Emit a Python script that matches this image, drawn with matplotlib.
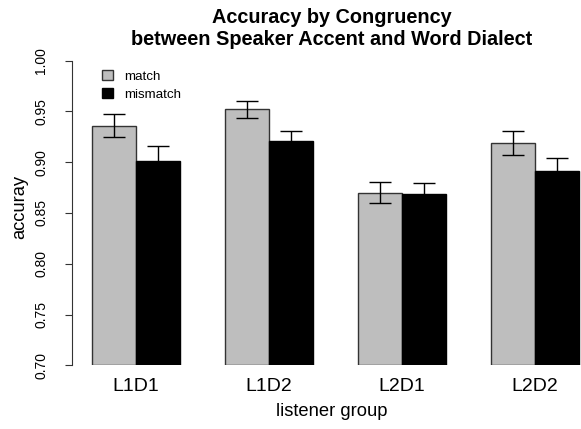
import matplotlib.pyplot as plt
import numpy as np
from matplotlib.patches import Patch

plt.rcParams['font.family'] = ['Liberation Sans', 'DejaVu Sans']

# data
groups = ["L1D1", "L1D2", "L2D1", "L2D2"]
match_acc = [0.936, 0.952, 0.870, 0.919]
match_se = [0.0115, 0.0083, 0.0103, 0.0118]
mismatch_acc = [0.901, 0.921, 0.869, 0.891]
mismatch_se = [0.0145, 0.0100, 0.0105, 0.0134]
yticks = [0.70, 0.75, 0.80, 0.85, 0.90, 0.95, 1.00]

base = 0.70
x = np.arange(len(groups)) * 3 + 2  # R barplot beside=TRUE, space=c(0,1)

fig = plt.figure(figsize=(5.81, 4.29), dpi=100)
ax = fig.add_axes([72 / 581, 1 - 365.3 / 429, 520 / 581, 304.8 / 429])

ax.bar(x - 0.5, np.array(match_acc) - base, width=1, bottom=base,
       color="#bebebe", edgecolor="#333333", linewidth=1, label="match")
ax.bar(x + 0.5, np.array(mismatch_acc) - base, width=1, bottom=base,
       color="black", edgecolor="black", linewidth=1, label="mismatch")
ax.errorbar(x - 0.5, match_acc, yerr=match_se, fmt="none", ecolor="black",
            elinewidth=1, capsize=8, capthick=1, zorder=3)
ax.errorbar(x + 0.5, mismatch_acc, yerr=mismatch_se, fmt="none", ecolor="black",
            elinewidth=1, capsize=8, capthick=1, zorder=3)

ax.set_xlim(0.555, 12.29)
ax.set_ylim(0.70, 1.00)

for s in ["top", "right", "bottom"]:
    ax.spines[s].set_visible(False)
ax.spines["left"].set_color("#333333")

ax.set_yticks(yticks)
ax.set_yticklabels(["%.2f" % v for v in yticks], rotation=90, va="center")
ax.tick_params(axis="y", length=5, pad=12, labelsize=10, color="#333333")
ax.set_xticks(x)
ax.set_xticklabels(groups)
ax.tick_params(axis="x", length=0, pad=9.5, labelsize=14)

ax.set_xlabel("listener group", fontsize=13.2, labelpad=5.5)
ax.set_ylabel("accuray", fontsize=13.2)
ax.yaxis.set_label_coords(-0.085, 0.518)

ax.set_title("Accuracy by Congruency\nbetween Speaker Accent and Word Dialect",
             fontsize=14.3, fontweight="bold", linespacing=1.17, pad=11.5)

handles = [Patch(facecolor="#bebebe", edgecolor="#333333", label="match"),
           Patch(facecolor="black", edgecolor="black", label="mismatch")]
ax.legend(handles=handles, loc="upper left", frameon=False, fontsize=9.6,
          bbox_to_anchor=(101.5 / 581, 1 - 70 / 429), bbox_transform=fig.transFigure,
          borderpad=0, borderaxespad=0, handlelength=0.85, handleheight=0.8,
          handletextpad=0.85, labelspacing=0.4)

fig.savefig("out.png", dpi=100)
